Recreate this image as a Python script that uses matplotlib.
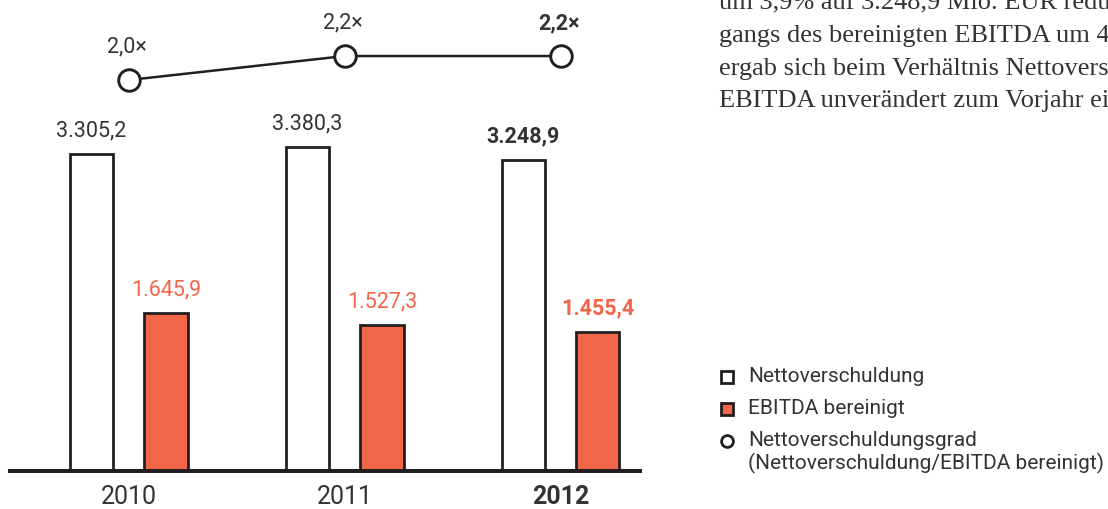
import matplotlib.pyplot as plt
import numpy as np

years = ['2010', '2011', '2012']
netto = [3305.2, 3380.3, 3248.9]
ebitda = [1645.9, 1527.3, 1455.4]
ratio = [2.0, 2.2, 2.2]
netto_labels = ['3.305,2', '3.380,3', '3.248,9']
ebitda_labels = ['1.645,9', '1.527,3', '1.455,4']
ratio_labels = ['2,0×', '2,2×', '2,2×']
body_lines = [
    'um 3,9% auf 3.248,9 Mio. EUR reduz',
    'gangs des bereinigten EBITDA um 4',
    'ergab sich beim Verhältnis Nettovers',
    'EBITDA unverändert zum Vorjahr ein',
]
legend_labels = ['Nettoverschuldung', 'EBITDA bereinigt',
                 'Nettoverschuldungsgrad\n(Nettoverschuldung/EBITDA bereinigt)']

ORANGE = '#f26649'
DARK = '#231f20'
TXT = '#333333'
plt.rcParams['font.family'] = ['Roboto', 'DejaVu Sans']

W, H = 1108, 509
fig = plt.figure(figsize=(W / 100, H / 100), dpi=100)

# main axes: x from 10px to 640px, baseline at 471px
ax = fig.add_axes([10 / W, (H - 471) / H, 630 / W, 471 / H])
x = np.arange(len(years))
off, bw = 0.173, 0.2
ax.bar(x - off, netto, bw, color='white', edgecolor=DARK, linewidth=2.0, zorder=2)
ax.bar(x + off, ebitda, bw, color=ORANGE, edgecolor=DARK, linewidth=2.0, zorder=2)
ax.set_xlim(-0.549, 2.368)
ax.set_ylim(0, 4916)
ax.axhline(0, color=DARK, linewidth=2.9, zorder=3, clip_on=False)
ax.axis('off')

for i in range(3):
    w = 'bold' if i == 2 else 'normal'
    ax.annotate(netto_labels[i], (x[i] - off, netto[i]), xytext=(0, 16.5),
                textcoords='offset points', ha='center', va='center',
                fontsize=15.5, color=TXT, fontweight=w)
    ax.annotate(ebitda_labels[i], (x[i] + off, ebitda[i]), xytext=(0, 16.5),
                textcoords='offset points', ha='center', va='center',
                fontsize=15.5, color=ORANGE, fontweight=w)
    ax.annotate(years[i], (x[i], 0), xytext=(0, -18.5),
                textcoords='offset points', ha='center', va='center',
                fontsize=18, color=TXT, fontweight=w)

# ratio line
ax2 = ax.twinx()
ax2.set_ylim(-1.258, 2.667)
ax2.plot(x, ratio, color=DARK, linewidth=1.8, marker='o', markersize=15.5,
         markerfacecolor='white', markeredgecolor=DARK, markeredgewidth=2.1,
         clip_on=False)
for i in range(3):
    w = 'bold' if i == 2 else 'normal'
    ax2.annotate(ratio_labels[i], (x[i], ratio[i]), xytext=(-1, 23.8),
                 textcoords='offset points', ha='center', va='center',
                 fontsize=15.5, color=TXT, fontweight=w)
ax2.axis('off')

# body text (serif, cut at the top and right as in the page)
for k, line in enumerate(body_lines):
    fig.text(719 / W, 1 - (3.5 + 32.5 * k) / H, line, ha='left', va='center',
             fontsize=19, family='Liberation Serif', color='#333333')

# legend
lax = fig.add_axes([0, 0, 1, 1])
lax.set_xlim(0, W)
lax.set_ylim(H, 0)
lax.axis('off')
leg_style = [('s', 'white'), ('s', ORANGE), ('o', 'white')]
leg_y = [377, 409, 441]
for (mk, fc), lab, yy in zip(leg_style, legend_labels, leg_y):
    lax.plot([727], [yy], marker=mk, markersize=8.5, markerfacecolor=fc,
             markeredgecolor=DARK, markeredgewidth=2.0, linestyle='none')
    first, *rest = lab.split('\n')
    lax.text(748, yy, first, ha='left', va='center', fontsize=15, color=TXT)
    for j, r in enumerate(rest):
        lax.text(748, yy + 22 * (j + 1), r, ha='left', va='center',
                 fontsize=15, color=TXT)

fig.savefig('out.png', dpi=100)
